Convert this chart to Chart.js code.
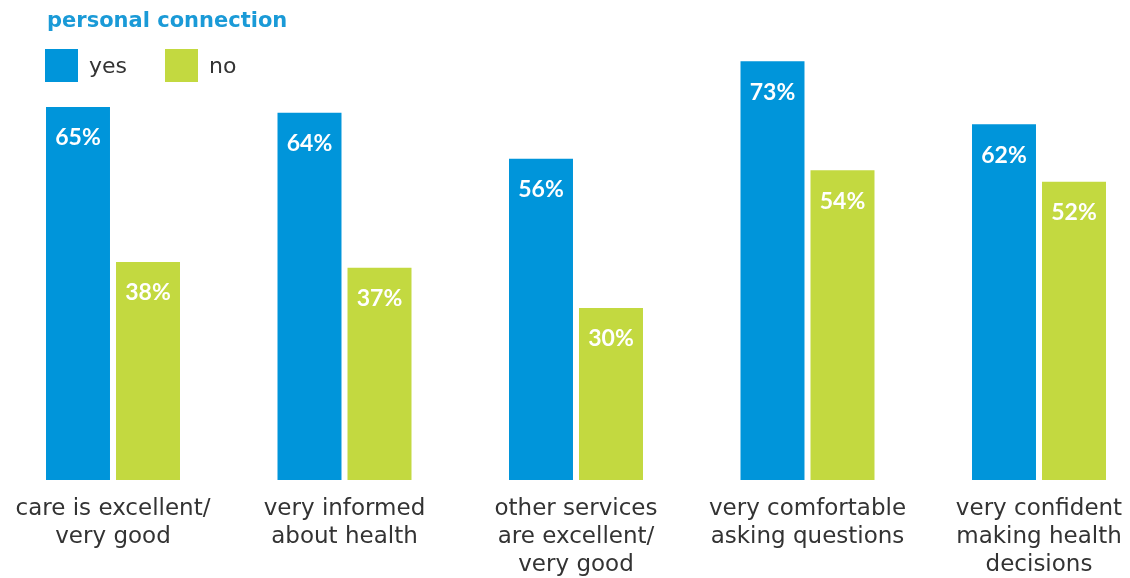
<!DOCTYPE html>
<html>
<head>
<meta charset="utf-8">
<script src="https://cdn.jsdelivr.net/npm/chart.js@4.4.1/dist/chart.umd.min.js"></script>
<style>
  html, body { margin: 0; padding: 0; background: #ffffff; }
  #wrap { width: 1130px; height: 578px; position: relative; }
</style>
</head>
<body>
<div id="wrap"><canvas id="chart" width="1130" height="578"></canvas></div>
<script>
// Survey outcomes split by whether the patient has a personal connection
const categories = [
  ['care is excellent/', 'very good'],
  ['very informed', 'about health'],
  ['other services', 'are excellent/', 'very good'],
  ['very comfortable', 'asking questions'],
  ['very confident', 'making health', 'decisions']
];
const yesValues = [65, 64, 56, 73, 62];
const noValues = [38, 37, 30, 54, 52];
const seriesNames = ['yes', 'no'];
const headline = 'personal connection';

const BLUE = '#0095da';
const GREEN = '#c3d940';
const TEXT = '#333333';

// Title and square legend keys drawn at the top left
const headerPlugin = {
  id: 'header',
  afterDraw(chart) {
    const ctx = chart.ctx;
    ctx.save();
    ctx.fillStyle = '#1a9ad7';
    ctx.font = 'bold 21px "DejaVu Sans"';
    ctx.textBaseline = 'middle';
    ctx.textAlign = 'left';
    ctx.fillText(headline, 47, 22);

    ctx.font = '22px "DejaVu Sans"';
    let x = 45;
    chart.data.datasets.forEach((ds) => {
      ctx.fillStyle = ds.backgroundColor;
      ctx.fillRect(x, 49, 33, 33);
      ctx.fillStyle = TEXT;
      ctx.fillText(ds.label, x + 44, 67);
      x += 120;
    });
    ctx.restore();
  }
};

// Percent values printed inside the top of each bar
const valueLabels = {
  id: 'valueLabels',
  afterDatasetsDraw(chart) {
    const ctx = chart.ctx;
    ctx.save();
    ctx.fillStyle = '#ffffff';
    ctx.font = 'bold 23px Lato';
    ctx.textAlign = 'center';
    ctx.textBaseline = 'middle';
    chart.data.datasets.forEach((ds, di) => {
      chart.getDatasetMeta(di).data.forEach((bar, i) => {
        ctx.fillText(ds.data[i] + '%', bar.x, bar.y + 31);
      });
    });
    ctx.restore();
  }
};

new Chart(document.getElementById('chart'), {
  type: 'bar',
  data: {
    labels: categories,
    datasets: [
      { label: seriesNames[0], data: yesValues, backgroundColor: BLUE },
      { label: seriesNames[1], data: noValues, backgroundColor: GREEN }
    ]
  },
  options: {
    responsive: false,
    animation: false,
    events: [],
    layout: { padding: { top: 21, right: 91, left: 0, bottom: 0 } },
    datasets: {
      bar: { categoryPercentage: 0.6048, barPercentage: 0.914, clip: false }
    },
    plugins: {
      legend: { display: false },
      title: { display: false },
      tooltip: { enabled: false }
    },
    scales: {
      x: {
        offset: false,
        grid: { display: false, drawTicks: false },
        border: { display: false },
        ticks: {
          autoSkip: false,
          maxRotation: 0,
          minRotation: 0,
          padding: 15,
          color: TEXT,
          font: { family: '"DejaVu Sans"', size: 23, lineHeight: 28 / 23 }
        },
        afterFit(scale) {
          scale.height = 98;
          scale.paddingLeft = 0;
          scale.paddingRight = 0;
        }
      },
      y: {
        min: 0,
        max: 80,
        grid: { display: false, drawTicks: false },
        border: { display: false },
        ticks: { display: false },
        afterFit(scale) { scale.width = 113; }
      }
    }
  },
  plugins: [headerPlugin, valueLabels]
});
</script>
</body>
</html>
